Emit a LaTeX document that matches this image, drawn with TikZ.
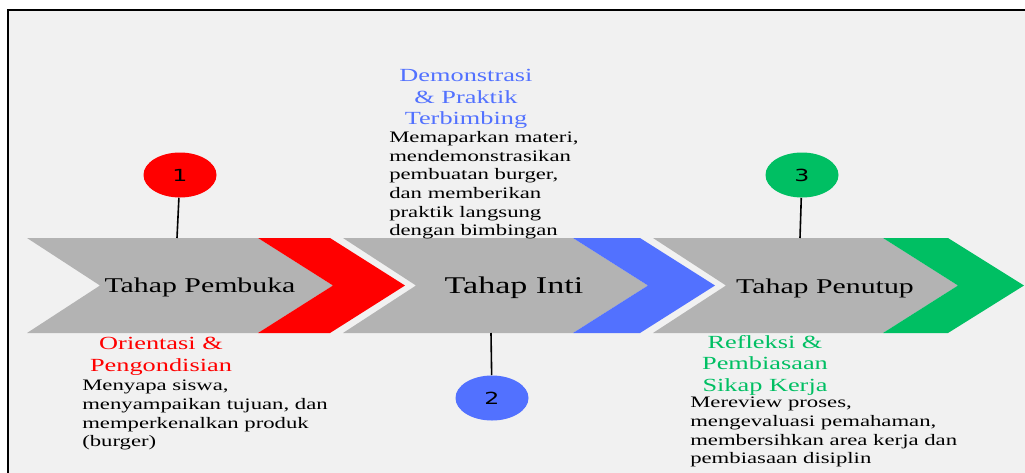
\documentclass[tikz,border=0pt]{standalone}
\usepackage{fontspec}
\setmainfont{Liberation Serif}[FakeStretch=1.42]
\newfontfamily\numfont{DejaVu Sans}[FakeStretch=1.42]
\usetikzlibrary{shapes.geometric}
\definecolor{bg}{HTML}{F1F1F1}
\definecolor{chevgray}{HTML}{B3B3B3}
\definecolor{stagered}{HTML}{FF0000}
\definecolor{stageblue}{HTML}{5271FF}
\definecolor{stagegreen}{HTML}{00BF63}

\begin{document}
\begin{tikzpicture}[x=0.75pt,y=-0.75pt]
\tikzstyle{every node}+=[inner sep=0pt]
\tikzstyle{stagetitle}=[anchor=base, font=\fontsize{15.75}{18}\selectfont]
\tikzstyle{numdot}=[ellipse, minimum width=54.75pt, minimum height=33.75pt, font=\numfont\fontsize{12.5}{14}\selectfont]
\tikzstyle{phasehead}=[align=center, anchor=north, font=\fontsize{13.9}{16.1}\selectfont]
\tikzstyle{phasebody}=[align=left, anchor=north west, font=\fontsize{12}{14}\selectfont]
\useasboundingbox (0,0) rectangle (1025,472);
\clip (0,0) rectangle (1025,472);
\draw [black, line width=1.5pt, fill=bg] (8,10) rectangle (1040,490);
\fill [chevgray] (27,238) -- (258,238) -- (333,285.5) -- (258,333) -- (27,333) -- (100,285.5) -- cycle;
\fill [stagered] (258,238) -- (330,238) -- (405,285.5) -- (330,333) -- (258,333) -- (333,285.5) -- cycle;
\fill [chevgray] (343,238) -- (573,238) -- (648,285.5) -- (573,333) -- (343,333) -- (416,285.5) -- cycle;
\fill [stageblue] (573,238) -- (640,238) -- (715,285.5) -- (640,333) -- (573,333) -- (648,285.5) -- cycle;
\fill [chevgray] (653,238) -- (883,238) -- (958,285.5) -- (883,333) -- (653,333) -- (726,285.5) -- cycle;
\fill [stagegreen] (883,238) -- (948,238) -- (1024,285.5) -- (948,333) -- (883,333) -- (958,285.5) -- cycle;
\node [stagetitle] (t1) at (200,292) {Tahap Pembuka};
\node [stagetitle, font=\fontsize{18}{20}\selectfont] (t2) at (514,293) {Tahap Inti};
\node [stagetitle] (t3) at (825,293) {Tahap Penutup};
\node [numdot, fill=stagered] (n1) at (180,175) {1};
\node [numdot, fill=stageblue] (n2) at (492,398) {2};
\node [numdot, fill=stagegreen] (n3) at (802,175) {3};
\coordinate (c1) at (177,238);
\coordinate (c2) at (491,333);
\coordinate (c3) at (800,238);
\draw [black, line width=1.2pt] (n1) -- (c1);
\draw [black, line width=1.2pt] (n2) -- (c2);
\draw [black, line width=1.2pt] (n3) -- (c3);
\node [phasehead, text=stagered] (h1) at (161,337) {Orientasi \&\\Pengondisian};
\node [phasehead, text=stageblue] (h2) at (466,69) {Demonstrasi\\\& Praktik\\Terbimbing};
\node [phasehead, text=stagegreen] (h3) at (765,335) {Refleksi \&\\Pembiasaan\\Sikap Kerja};
\node [phasebody] (b1) at (82,380) {Menyapa siswa,\\menyampaikan tujuan, dan\\memperkenalkan produk\\(burger)};
\node [phasebody] (b2) at (389,131) {Memaparkan materi,\\mendemonstrasikan\\pembuatan burger,\\dan memberikan\\praktik langsung\\dengan bimbingan};
\node [phasebody] (b3) at (690,397) {Mereview proses,\\mengevaluasi pemahaman,\\membersihkan area kerja dan\\pembiasaan disiplin};
\end{tikzpicture}
\end{document}
